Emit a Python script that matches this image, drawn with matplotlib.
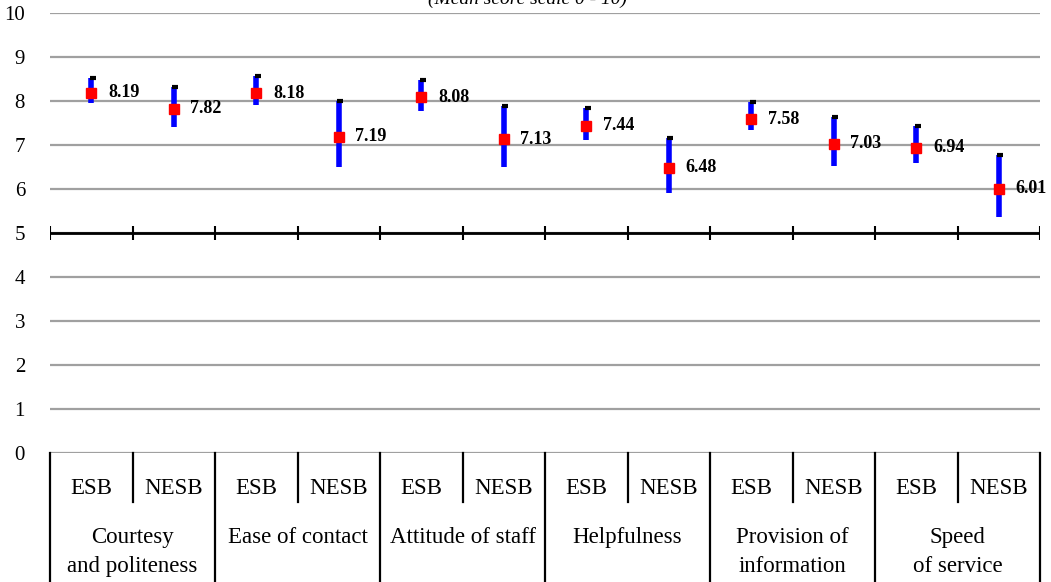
import matplotlib.pyplot as plt
import numpy as np

plt.rcParams['font.family'] = ['Liberation Serif', 'DejaVu Serif']

groups = ['Courtesy\nand politeness', 'Ease of contact', 'Attitude of staff',
          'Helpfulness', 'Provision of\ninformation', 'Speed\nof service']
subgroups = ['ESB', 'NESB']

means = [8.19, 7.82, 8.18, 7.19, 8.08, 7.13, 7.44, 6.48, 7.58, 7.03, 6.94, 6.01]
highs = [8.52, 8.31, 8.57, 8.01, 8.48, 7.89, 7.84, 7.17, 7.97, 7.64, 7.44, 6.77]
lows = [7.96, 7.42, 7.91, 6.49, 7.78, 6.49, 7.11, 5.90, 7.33, 6.53, 6.58, 5.37]

fig = plt.figure(figsize=(10.51, 5.82), dpi=100)
ax = fig.add_axes([50 / 1051, 129 / 582, 990 / 1051, 440 / 582])

n = len(means)
x = np.arange(n) + 0.5

ax.set_xlim(0, n)
ax.set_ylim(0, 10)
for s in ax.spines.values():
    s.set_visible(False)

# gridlines
for v in range(11):
    ax.axhline(v, color='#a0a0a0', lw=1.6, zorder=1)

# category axis crossing at 5
ax.axhline(5, color='black', lw=2, zorder=2)
ax.vlines(np.arange(n + 1), 4.85, 5.15, color='black', lw=1.5, zorder=2)

# high-low bars, caps and mean markers
ax.vlines(x, lows, highs, color='#0000ff', lw=4, zorder=3)
ax.plot(x + 0.02, highs, ls='none', marker='_', ms=5, mew=3, color='black', zorder=4)
ax.plot(x, means, ls='none', marker='s', ms=7.5, color='#ff0000', zorder=5)
for xi, m in zip(x, means):
    ax.annotate(f'{m:.2f}', (xi, m), xytext=(12, 0), textcoords='offset points',
                va='center', ha='left', fontsize=13, fontweight='bold', zorder=6)

ax.set_xticks([])
ax.set_yticks(range(11))
ax.tick_params(axis='y', length=0, pad=18, labelsize=15)

# category table below the axis
sub_bottom = -1.11
table_bottom = -2.95
for i in range(n + 1):
    lower = table_bottom if i % 2 == 0 else sub_bottom
    ax.plot([i, i], [0, lower], color='black', lw=1.6, clip_on=False, zorder=2)
for i in range(n):
    ax.text(i + 0.5, -0.8, subgroups[i % 2], ha='center', va='center',
            fontsize=16.5, clip_on=False)
for g, name in enumerate(groups):
    ax.text(2 * g + 1, -1.68, name, ha='center', va='top', fontsize=16.5,
            linespacing=1.5, clip_on=False)

fig.text(528 / 1051, 1 - 4 / 582, '(Mean score scale 0 - 10)', ha='center',
         va='baseline', fontsize=14, style='italic')

fig.savefig('out.png', dpi=100)
